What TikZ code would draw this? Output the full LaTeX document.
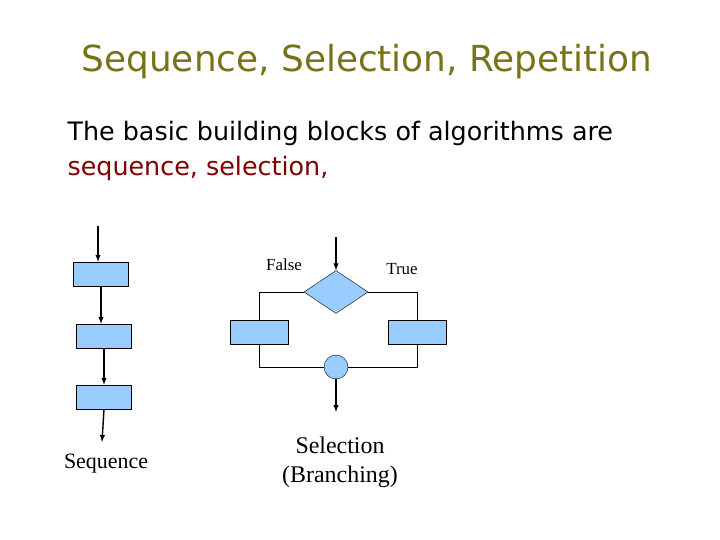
\documentclass[tikz,border=0pt]{standalone}
\usepackage{fontspec}
\setmainfont{Liberation Serif}
\newfontfamily\slidefont{DejaVu Sans}
\usetikzlibrary{shapes.geometric}
\definecolor{boxfill}{RGB}{153,204,255}
\begin{document}
\begin{tikzpicture}[x=1bp,y=-1bp,
    blk/.style={draw=black, fill=boxfill, minimum width=55bp, minimum height=24bp, inner sep=0pt},
    flow/.style={line width=1.4pt, -latex},
    wire/.style={semithick}]
        \useasboundingbox (0,0) rectangle (720,540);

        % Title and intro text
        \node[text=olive!80!black, font=\slidefont\fontsize{36}{42}\selectfont] (title) at (367,62) {Sequence, Selection, Repetition};
        \node[anchor=west, font=\slidefont\fontsize{25.5}{30}\selectfont] (intro) at (64,133) {The basic building blocks of algorithms are};
        \node[anchor=west, text=red!50!black, font=\slidefont\fontsize{25.5}{30}\selectfont] (intro2) at (64,168) {sequence, selection,};

        % Sequence
        \node[blk] (s1) at (101,274) {};
        \node[blk] (s2) at (104,336) {};
        \node[blk] (s3) at (104,397) {};
        \coordinate (sin) at (98,226);
        \coordinate (sout) at (102,442);
        \draw[flow] (sin) -- (s1.north -| sin);
        \draw[flow] (s1.south) -- (s2.north -| s1.south);
        \draw[flow] (s2.south) -- (s3.north -| s2.south);
        \draw[flow] (s3.south) -- (sout);
        \node[font=\fontsize{22}{26}\selectfont] (seqlbl) at (106,464) {Sequence};

        % Selection
        \node[draw=black, fill=boxfill, diamond, minimum width=64bp, minimum height=43bp, inner sep=0pt] (cond) at (336,292) {};
        \node[blk, minimum width=58bp] (fbox) at (259,332) {};
        \node[blk, minimum width=58bp] (tbox) at (417,332) {};
        \node[draw=black, fill=boxfill, circle, minimum size=24bp, inner sep=0pt] (join) at (336,367) {};
        \coordinate (cin) at (336,237);
        \coordinate (cout) at (336,412);
        \draw[flow] (cin) -- (cond.north);
        \draw[wire] (cond.west) -| (fbox.north);
        \draw[wire] (cond.east) -| (tbox.north);
        \draw[wire] (fbox.south) |- (join.west);
        \draw[wire] (tbox.south) |- (join.east);
        \draw[flow] (join.south) -- (cout);
        \node[font=\fontsize{17}{20}\selectfont] (flbl) at (284,265) {False};
        \node[font=\fontsize{17}{20}\selectfont] (tlbl) at (402,269) {True};
        \node[font=\fontsize{24}{29}\selectfont, align=center] (sellbl) at (340,462) {Selection\\(Branching)};

    \end{tikzpicture}
\end{document}
